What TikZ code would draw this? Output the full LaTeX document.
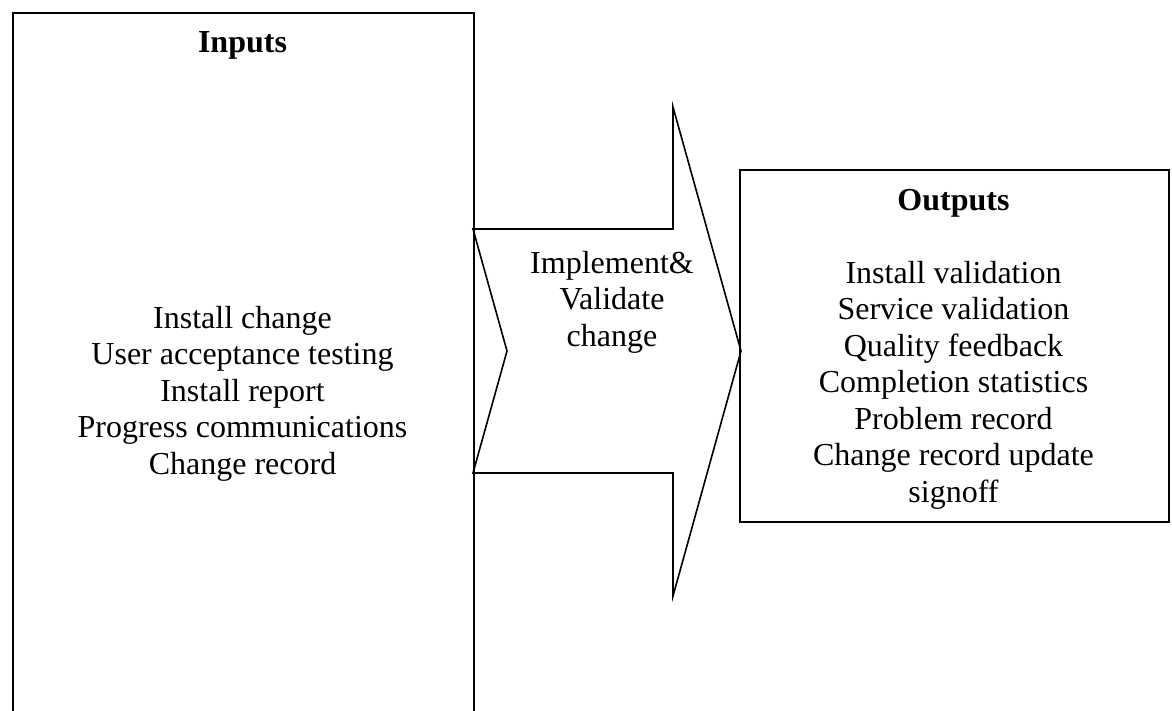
\documentclass[tikz,border=0pt]{standalone}
\usepackage{fontspec}
\setmainfont{Liberation Serif}
\begin{document}
\begin{tikzpicture}[x=1pt,y=-1pt,
  frame/.style={draw=black, line width=1.6pt},
  shapeline/.style={draw=black, line width=1.6pt, line join=miter},
  body/.style={font=\fontsize{32}{36.5}\selectfont, align=center, inner sep=0pt},
  head/.style={font=\bfseries\fontsize{32}{36.5}\selectfont, inner sep=0pt}]
\useasboundingbox (0,0) rectangle (1172,710);
\clip (0,0) rectangle (1172,710);

% input panel (runs off the lower edge)
\node[frame, anchor=north west, minimum width=461pt, minimum height=740pt, inner sep=0pt] (inbox) at (12,12) {};
\node[head, anchor=base] (inhead) at (242.5,52) {Inputs};
% multi-line nodes: the base anchor sits on the last line
\node[body, anchor=base] (inlist) at (242.5,474) {Install change\\User acceptance testing\\Install report\\Progress communications\\Change record};

% notched process arrow
\coordinate (a1) at (473,229);
\coordinate (a2) at (673,229);
\coordinate (a3) at (673,107);
\coordinate (tip) at (741,351);
\coordinate (a5) at (673,596);
\coordinate (a6) at (673,473);
\coordinate (a7) at (473,473);
\coordinate (notch) at (507,351);
\draw[shapeline] (a1) -- (a2) -- (a3) -- (tip) -- (a5) -- (a6) -- (a7) -- (notch) -- cycle;
\node[body, anchor=base] (step) at (612,346) {Implement\&\\Validate\\change};

% output panel
\node[frame, anchor=north west, minimum width=429pt, minimum height=352pt, inner sep=0pt] (outbox) at (739,169) {};
\node[head, anchor=base] (outhead) at (953.5,210) {Outputs};
\node[body, anchor=base] (outlist) at (953.5,502) {Install validation\\Service validation\\Quality feedback\\Completion statistics\\Problem record\\Change record update\\signoff};
\end{tikzpicture}
\end{document}
